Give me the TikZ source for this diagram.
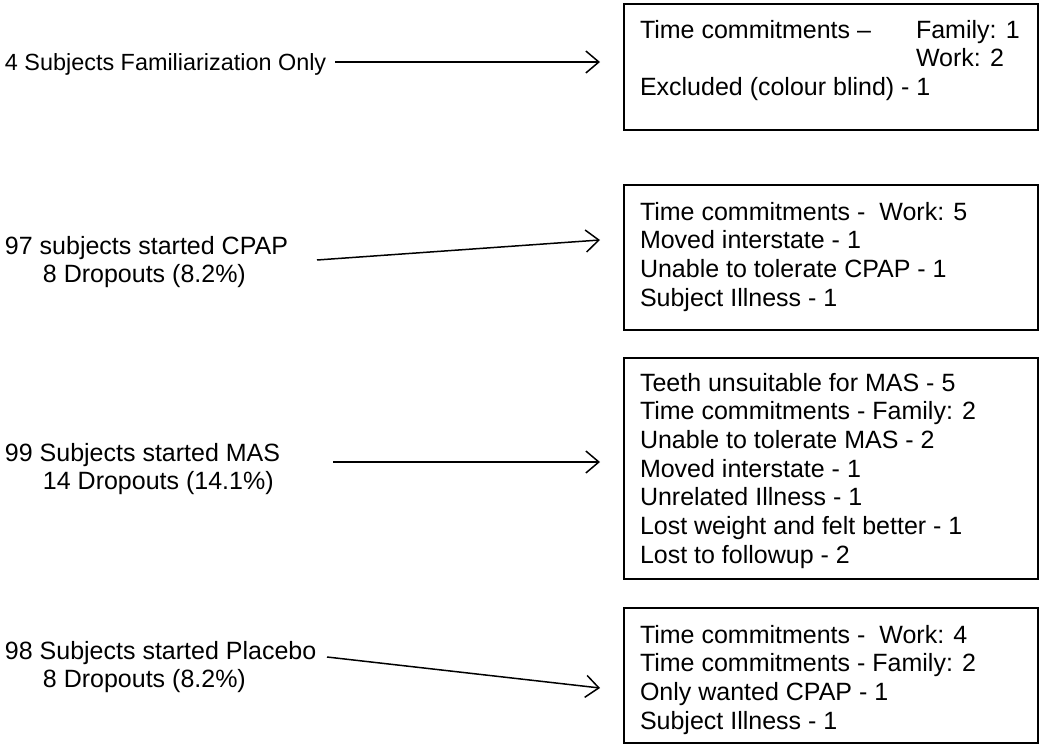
\documentclass[tikz,border=0pt]{standalone}
\usepackage{fontspec}
\setmainfont{Liberation Sans}
\usetikzlibrary{arrows.meta}
\begin{document}
\begin{tikzpicture}[x=1pt,y=-1pt,
  every node/.style={inner sep=0pt, outer sep=0pt},
  txt/.style={font=\fontsize{25}{28.7}\selectfont, align=left, anchor=north west},
  boxframe/.style={draw=black, line width=2pt, anchor=north west, minimum width=414pt},
  conn/.style={line width=1.5pt, -{Straight Barb[length=13pt,width=22pt,line width=1.5pt]}}
]
\useasboundingbox (0,0) rectangle (1045,746);

% boxes
\node[boxframe, minimum height=126pt] (b1) at (624,4) {};
\node[boxframe, minimum height=145pt] (b2) at (624,185) {};
\node[boxframe, minimum height=221pt] (b3) at (624,358) {};
\node[boxframe, minimum height=135pt] (b4) at (624,608) {};

% box texts
\node[txt] (t1) at (640,20) {Time commitments --\\[0pt]\mbox{}\\ Excluded (colour blind) - 1};
\node[txt] (t1b) at (916,20) {Family: 1\\Work: 2};
\node[txt] (t2) at (640,202) {Time commitments -\ \ Work: 5\\Moved interstate - 1\\Unable to tolerate CPAP - 1\\Subject Illness - 1};
\node[txt] (t3) at (640,373) {Teeth unsuitable for MAS - 5\\Time commitments - Family: 2\\Unable to tolerate MAS - 2\\Moved interstate - 1\\Unrelated Illness - 1\\Lost weight and felt better - 1\\Lost to followup - 2};
\node[txt] (t4) at (640,625) {Time commitments -\ \ Work: 4\\Time commitments - Family: 2\\Only wanted CPAP - 1\\Subject Illness - 1};

% left texts
\node[txt, font=\fontsize{23.4}{28.7}\selectfont] (l1) at (5,54) {4 Subjects Familiarization Only};
\node[txt] (l2) at (5,236) {97 subjects started CPAP\\\hspace*{38pt}8 Dropouts (8.2\%)};
\node[txt] (l3) at (5,443) {99 Subjects started MAS\\\hspace*{38pt}14 Dropouts (14.1\%)};
\node[txt] (l4) at (5,641) {98 Subjects started Placebo\\\hspace*{38pt}8 Dropouts (8.2\%)};

% connector endpoints
\coordinate (s1) at (335,62);  \coordinate (e1) at (600,62);
\coordinate (s2) at (317,260); \coordinate (e2) at (600,240);
\coordinate (s3) at (333,462); \coordinate (e3) at (600,462);
\coordinate (s4) at (327,657); \coordinate (e4) at (600,688);

\draw[conn] (s1) -- (e1);
\draw[conn] (s2) -- (e2);
\draw[conn] (s3) -- (e3);
\draw[conn] (s4) -- (e4);
\end{tikzpicture}
\end{document}
